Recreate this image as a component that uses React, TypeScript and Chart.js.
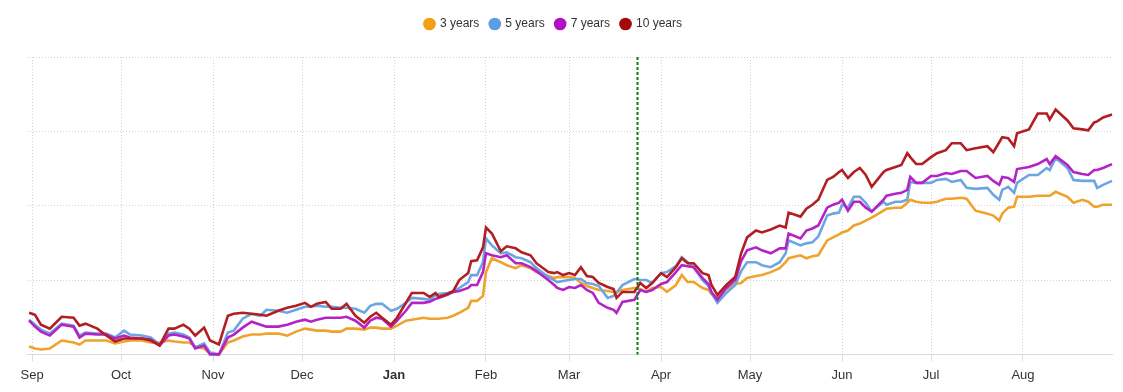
import React, { useEffect, useRef } from "react";
import { Chart, registerables } from "chart.js";

Chart.register(...registerables);

// Day offsets from 1 Sep (x axis)
const days = [
  -1, 1, 3, 6, 10, 14, 16, 18, 22, 25, 28, 31, 33, 37, 40, 43, 46, 48, 51, 53, 55, 58, 60, 63,
  66, 68, 71, 74, 77, 79, 83, 86, 89, 92, 94, 96, 99, 101, 104, 106, 109, 112, 114, 116, 118, 121,
  123, 126, 128, 132, 134, 136, 137, 140, 142, 144, 147, 148, 150, 152, 153, 155, 158, 160, 163, 165, 168, 170, 174, 176, 177, 179, 181, 183,
  185, 187, 189, 191, 194, 196, 197, 199, 203, 205, 207, 209, 212, 214, 217, 219, 221, 223, 226, 228, 229, 231, 234, 237, 239, 241,
  244, 246, 249, 252, 254, 255, 259, 261, 263, 265, 268, 270, 272, 273, 275, 277, 279, 281, 283, 287, 288, 291, 293, 295, 296, 298, 300, 303,
  305, 308, 310, 313, 315, 318, 322, 324, 326, 327, 329, 331, 332, 336, 339, 342, 343, 345, 349, 351, 354, 356, 358, 359, 361, 364,
];

const threeYear = [
  0.08, 0.06, 0.05, 0.06, 0.14, 0.12, 0.10, 0.14, 0.14, 0.14, 0.11, 0.13, 0.14, 0.14, 0.12, 0.12, 0.14, 0.13, 0.12, 0.12, 0.08, 0.06, 0.01, 0,
  0.12, 0.14, 0.18, 0.20, 0.20, 0.21, 0.21, 0.19, 0.23, 0.26, 0.25, 0.24, 0.24, 0.23, 0.23, 0.26, 0.26, 0.25, 0.27, 0.27, 0.26, 0.26,
  0.29, 0.34, 0.35, 0.37, 0.36, 0.36, 0.36, 0.37, 0.39, 0.42, 0.47, 0.54, 0.54, 0.59, 0.83, 0.97, 0.93, 0.90, 0.87, 0.90, 0.87, 0.83, 0.79, 0.77, 0.78, 0.78, 0.78, 0.77,
  0.72, 0.69, 0.67, 0.65, 0.64, 0.63, 0.63, 0.65, 0.67, 0.66, 0.63, 0.67, 0.68, 0.63, 0.70, 0.80, 0.73, 0.73, 0.67, 0.65, 0.61, 0.57, 0.66, 0.71, 0.72, 0.77,
  0.79, 0.80, 0.83, 0.87, 0.93, 0.97, 1.00, 0.97, 0.99, 1.00, 1.15, 1.18, 1.21, 1.23, 1.25, 1.30, 1.32, 1.35, 1.38, 1.45, 1.47, 1.48, 1.48, 1.53, 1.56, 1.54, 1.53, 1.53,
  1.54, 1.57, 1.57, 1.58, 1.57, 1.45, 1.42, 1.40, 1.35, 1.42, 1.48, 1.49, 1.59, 1.59, 1.60, 1.60, 1.60, 1.64, 1.59, 1.53, 1.56, 1.54, 1.49, 1.49, 1.51, 1.51,
];

const fiveYear = [
  0.35, 0.30, 0.25, 0.21, 0.31, 0.29, 0.19, 0.22, 0.21, 0.21, 0.17, 0.24, 0.20, 0.19, 0.17, 0.10, 0.21, 0.22, 0.20, 0.17, 0.07, 0.11, 0.02, 0,
  0.22, 0.24, 0.36, 0.41, 0.39, 0.45, 0.44, 0.42, 0.45, 0.48, 0.48, 0.49, 0.48, 0.48, 0.47, 0.47, 0.46, 0.42, 0.49, 0.51, 0.51, 0.44,
  0.46, 0.52, 0.57, 0.56, 0.55, 0.60, 0.61, 0.62, 0.63, 0.67, 0.73, 0.80, 0.80, 0.93, 1.17, 1.10, 1.02, 1.03, 0.98, 0.97, 0.93, 0.87, 0.78, 0.75, 0.73, 0.74, 0.75, 0.76,
  0.76, 0.72, 0.71, 0.69, 0.57, 0.59, 0.62, 0.70, 0.76, 0.75, 0.75, 0.72, 0.82, 0.83, 0.89, 0.98, 0.93, 0.88, 0.75, 0.69, 0.62, 0.52, 0.62, 0.70, 0.84, 0.93,
  0.93, 0.90, 0.88, 0.93, 1.02, 1.15, 1.10, 1.12, 1.13, 1.19, 1.40, 1.42, 1.43, 1.51, 1.48, 1.59, 1.59, 1.53, 1.44, 1.54, 1.51, 1.54, 1.54, 1.56, 1.74, 1.73, 1.73, 1.73,
  1.76, 1.77, 1.74, 1.76, 1.68, 1.67, 1.68, 1.61, 1.56, 1.66, 1.69, 1.63, 1.73, 1.81, 1.81, 1.88, 1.86, 1.98, 1.88, 1.76, 1.75, 1.75, 1.75, 1.68, 1.71, 1.75,
];

const sevenYear = [
  0.34, 0.28, 0.23, 0.19, 0.30, 0.28, 0.17, 0.21, 0.20, 0.20, 0.16, 0.19, 0.17, 0.16, 0.15, 0.09, 0.19, 0.20, 0.18, 0.16, 0.06, 0.09, 0, 0,
  0.17, 0.20, 0.27, 0.33, 0.30, 0.28, 0.28, 0.30, 0.33, 0.35, 0.33, 0.35, 0.37, 0.37, 0.37, 0.38, 0.34, 0.27, 0.34, 0.37, 0.36, 0.28,
  0.34, 0.44, 0.52, 0.52, 0.53, 0.56, 0.57, 0.60, 0.63, 0.64, 0.67, 0.70, 0.70, 0.83, 1.02, 1.00, 0.98, 1.00, 0.92, 0.92, 0.88, 0.84, 0.75, 0.70, 0.67, 0.65, 0.68, 0.67,
  0.70, 0.65, 0.62, 0.52, 0.47, 0.45, 0.42, 0.53, 0.55, 0.65, 0.63, 0.65, 0.71, 0.73, 0.83, 0.90, 0.89, 0.88, 0.77, 0.71, 0.63, 0.55, 0.67, 0.75, 0.94, 1.05,
  1.08, 1.05, 1.02, 1.07, 1.07, 1.22, 1.17, 1.25, 1.27, 1.30, 1.48, 1.51, 1.53, 1.56, 1.45, 1.54, 1.54, 1.48, 1.44, 1.56, 1.60, 1.62, 1.63, 1.66, 1.79, 1.73, 1.73, 1.80,
  1.80, 1.83, 1.82, 1.85, 1.85, 1.78, 1.80, 1.75, 1.71, 1.79, 1.78, 1.74, 1.87, 1.89, 1.92, 1.97, 1.92, 2.00, 1.91, 1.84, 1.82, 1.81, 1.86, 1.86, 1.88, 1.92,
];

const tenYear = [
  0.42, 0.40, 0.30, 0.26, 0.38, 0.37, 0.29, 0.31, 0.26, 0.19, 0.13, 0.16, 0.16, 0.16, 0.14, 0.09, 0.26, 0.26, 0.30, 0.26, 0.19, 0.27, 0.14, 0.10,
  0.39, 0.41, 0.42, 0.41, 0.40, 0.39, 0.44, 0.47, 0.49, 0.52, 0.48, 0.51, 0.53, 0.46, 0.46, 0.51, 0.39, 0.32, 0.38, 0.42, 0.37, 0.30,
  0.37, 0.52, 0.62, 0.62, 0.58, 0.62, 0.58, 0.61, 0.64, 0.75, 0.82, 0.94, 0.95, 1.08, 1.28, 1.22, 1.04, 1.09, 1.07, 1.03, 1.00, 0.92, 0.83, 0.82, 0.83, 0.80, 0.82, 0.80,
  0.88, 0.79, 0.78, 0.72, 0.68, 0.66, 0.57, 0.63, 0.63, 0.72, 0.67, 0.72, 0.82, 0.78, 0.88, 0.97, 0.92, 0.92, 0.82, 0.80, 0.70, 0.60, 0.70, 0.78, 1.02, 1.18,
  1.25, 1.23, 1.26, 1.30, 1.28, 1.43, 1.39, 1.47, 1.51, 1.56, 1.76, 1.79, 1.84, 1.86, 1.78, 1.84, 1.88, 1.81, 1.69, 1.84, 1.86, 1.89, 1.91, 2.03, 1.99, 1.92, 1.92, 1.99,
  2.03, 2.06, 2.13, 2.13, 2.06, 2.08, 2.10, 2.04, 2.14, 2.19, 2.18, 2.10, 2.23, 2.27, 2.43, 2.43, 2.37, 2.47, 2.36, 2.28, 2.27, 2.26, 2.34, 2.35, 2.39, 2.42,
];

const seriesLabels = ["3 years", "5 years", "7 years", "10 years"];
const monthStarts = [0, 30, 61, 91, 122, 153, 181, 212, 242, 273, 303, 334];
const monthLabels = ["Sep", "Oct", "Nov", "Dec", "Jan", "Feb", "Mar", "Apr", "May", "Jun", "Jul", "Aug"];
const boldMonth = "Jan";
const markerDay = 204;

const lineColors = ["#f0a32c", "#6ca6e2", "#b522c6", "#b21e22"];
const legendColors = ["#f0a010", "#5c9ee4", "#b010c2", "#a20a0a"];
const FONT = "'Liberation Sans', Arial, Helvetica, sans-serif";

export default function App() {
  const ref = useRef<HTMLCanvasElement>(null);

  useEffect(() => {
    document.body.style.margin = "0";
    const canvas = ref.current;
    if (!canvas) return;

    const values = [threeYear, fiveYear, sevenYear, tenYear];
    const datasets = values.map((vals, i) => ({
      label: seriesLabels[i],
      data: days.map((d, j) => ({ x: d, y: vals[j] })),
      borderColor: lineColors[i],
      backgroundColor: legendColors[i],
      borderWidth: 2.6,
      pointRadius: 0,
      pointHoverRadius: 0,
      tension: 0,
      order: 3 - i,
      clip: 3,
    }));

    const legendPlacement = {
      id: "legendPlacement",
      beforeInit(chart: any) {
        const legend = chart.legend;
        if (!legend) return;
        const origFit = legend.fit;
        legend.fit = function () {
          origFit.call(this);
          this.height += 17;
        };
      },
      afterLayout(chart: any) {
        const legend = chart.legend;
        if (!legend) return;
        legend.left -= 16;
        legend.right -= 16;
      },
    };

    const markerLine = {
      id: "markerLine",
      afterDatasetsDraw(chart: any) {
        const { ctx, chartArea, scales } = chart;
        const px = Math.round(scales.x.getPixelForValue(markerDay)) + 0.5;
        ctx.save();
        ctx.strokeStyle = "#0b7d0b";
        ctx.lineWidth = 2;
        ctx.setLineDash([3, 2]);
        ctx.beginPath();
        ctx.moveTo(px, chartArea.top);
        ctx.lineTo(px, chartArea.bottom);
        ctx.stroke();
        ctx.restore();
      },
    };

    const chart = new Chart(canvas, {
      type: "line",
      data: { datasets } as any,
      options: {
        animation: false,
        responsive: false,
        maintainAspectRatio: false,
        layout: { padding: { top: 7, left: 27, right: 11, bottom: 3 } },
        font: { family: FONT } as any,
        plugins: {
          tooltip: { enabled: false },
          legend: {
            display: true,
            position: "top",
            align: "center",
            labels: {
              usePointStyle: true,
              pointStyle: "circle",
              boxWidth: 9,
              boxHeight: 9,
              padding: 11,
              color: "#333333",
              font: { size: 12, family: FONT },
              generateLabels(c: any) {
                const items = Chart.defaults.plugins.legend.labels.generateLabels(c);
                return items
                  .map((it: any) => ({ ...it, lineWidth: 0, strokeStyle: "rgba(0,0,0,0)" }))
                  .sort((a: any, b: any) => a.datasetIndex - b.datasetIndex);
              },
            },
          },
        },
        scales: {
          x: {
            type: "linear",
            min: -1.7,
            max: 364,
            afterBuildTicks(scale: any) {
              scale.ticks = monthStarts.map((v) => ({ value: v }));
            },
            ticks: {
              autoSkip: false,
              maxRotation: 0,
              padding: 6,
              color: "#333333",
              callback(value: any) {
                const i = monthStarts.indexOf(Number(value));
                return i >= 0 ? monthLabels[i] : "";
              },
              font(ctx: any) {
                const v = ctx.tick ? ctx.tick.value : null;
                const i = monthStarts.indexOf(v);
                const bold = i >= 0 && monthLabels[i] === boldMonth;
                return { size: 13, family: FONT, weight: bold ? "bold" : "normal" };
              },
            },
            grid: {
              color: "#d2d2d2",
              lineWidth: 1,
              drawTicks: true,
              tickLength: 7,
              tickColor: "#dcdcdc",
            },
            border: { display: true, color: "#d9d9d9", width: 1, dash: [1, 2] },
          },
          y: {
            min: 0,
            max: 3,
            ticks: { display: false, stepSize: 0.75 },
            grid: { color: "#d2d2d2", lineWidth: 1, drawTicks: false },
            border: { display: false, dash: [1, 2] },
          },
        },
      } as any,
      plugins: [legendPlacement, markerLine],
    });

    return () => chart.destroy();
  }, []);

  return (
    <div style={{ width: 1123, height: 392, background: "#ffffff" }}>
      <canvas ref={ref} width={1123} height={392} style={{ display: "block", width: 1123, height: 392 }} />
    </div>
  );
}
